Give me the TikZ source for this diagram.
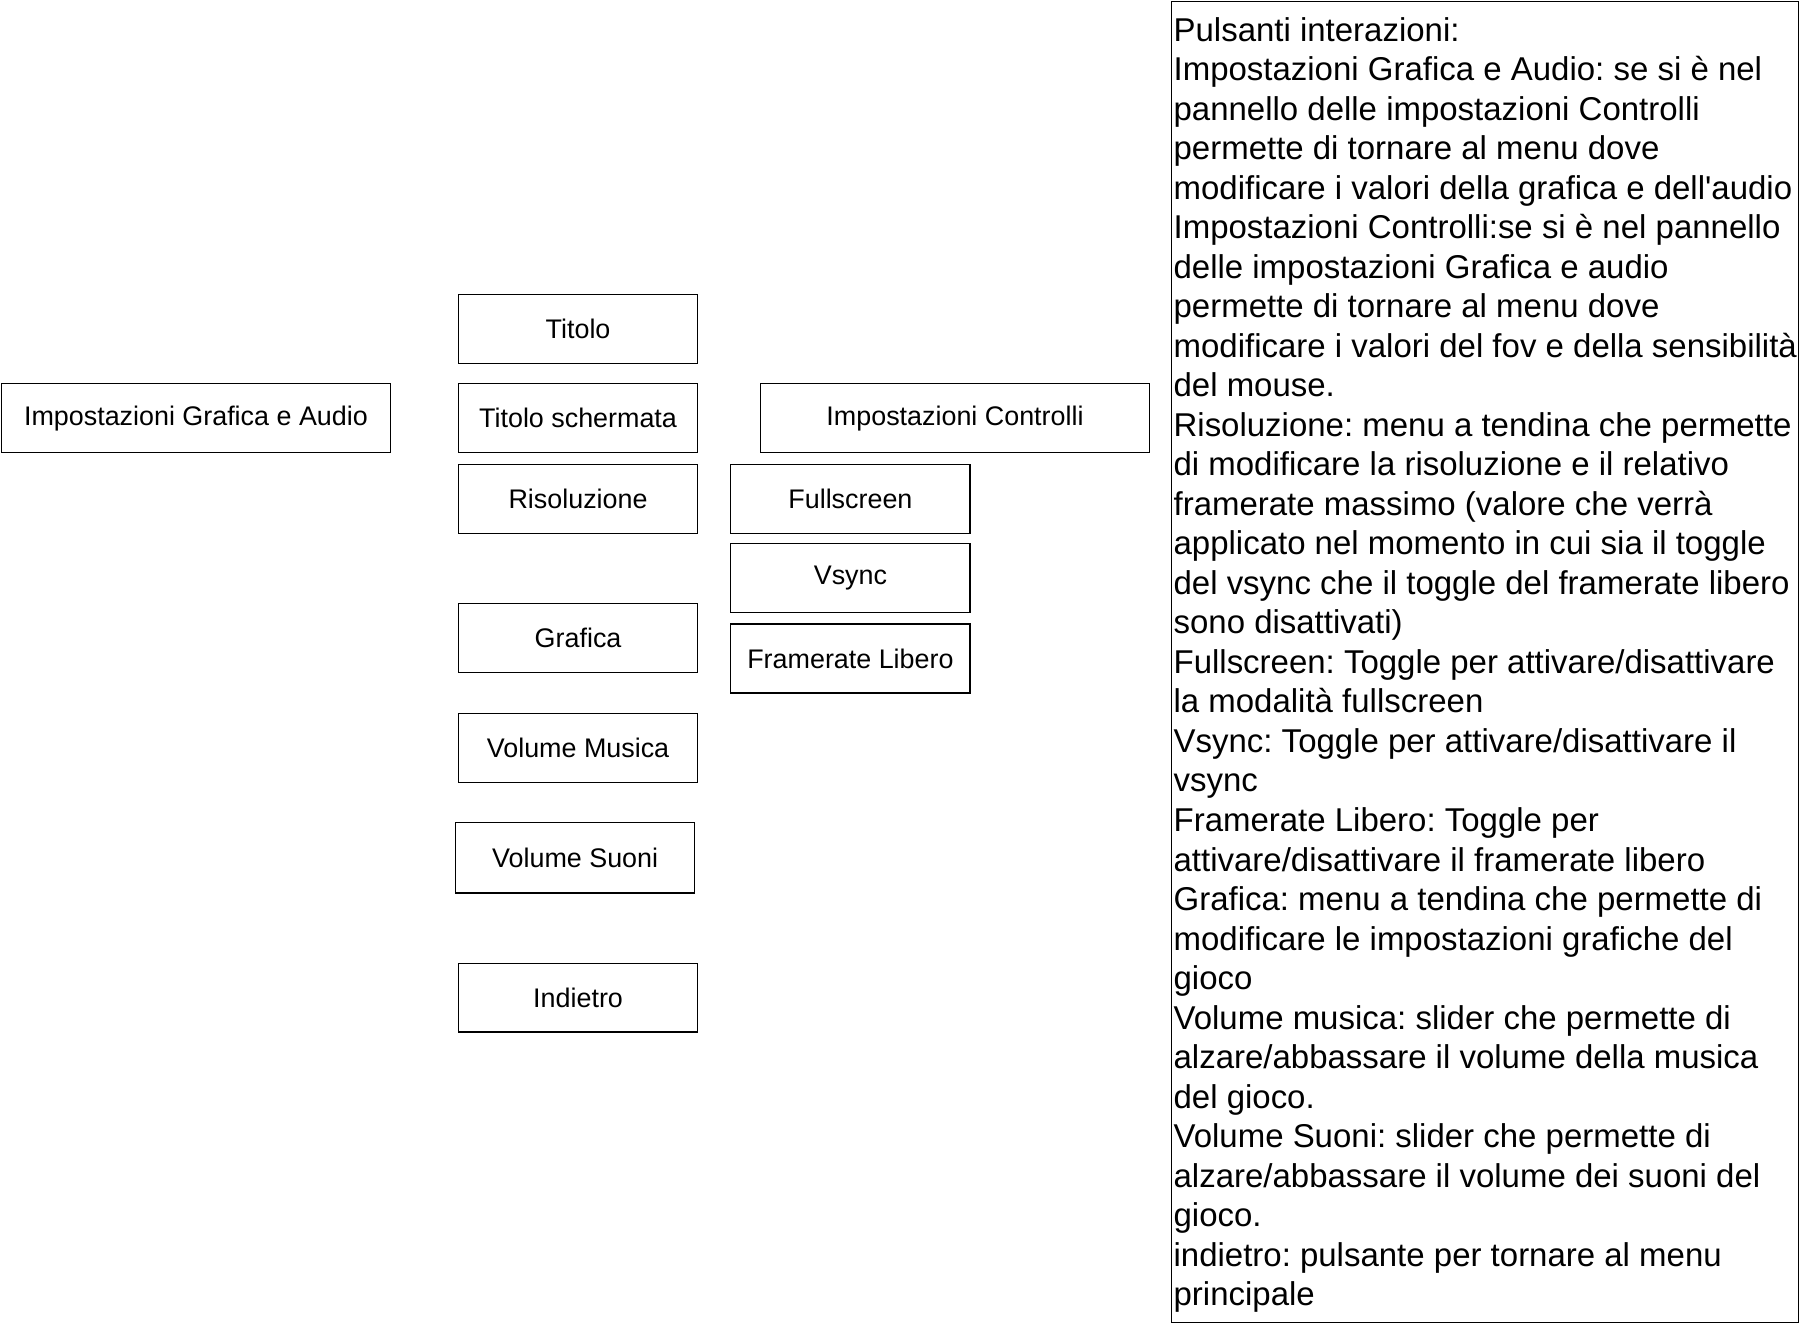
\documentclass[tikz,border=0pt]{standalone}
\usepackage{fontspec}
\setmainfont{Liberation Sans}[Ligatures=TeXOff]
\frenchspacing
\begin{document}
\frenchspacing
\begin{tikzpicture}[x=1pt,y=-1pt,
  btn/.style={draw=black, line width=1pt, minimum width=208pt, minimum height=60pt,
    inner sep=0pt, font={\fontsize{23.4}{28}\selectfont\frenchspacing}, text=black},
  wide/.style={btn, minimum width=338pt},
  notes/.style={anchor=north west, inner sep=0pt, align=left,
    font={\fontsize{28.7}{34.38}\selectfont\frenchspacing}, text=black}]
\useasboundingbox (0,0) rectangle (1568,1152);
\fill[white] (0,0) rectangle (1568,1152);
% left menu
\node[wide, minimum width=339pt] (iga) at (170.5,364) {Impostazioni Grafica e Audio};
\node[btn] (titolo) at (503,286) {Titolo};
\node[btn] (tsch) at (503,364) {Titolo schermata};
\node[btn] (ris) at (503,434) {Risoluzione};
\node[btn] (graf) at (503,555) {Grafica};
\node[btn] (vmus) at (503,651) {Volume Musica};
\node[btn, minimum height=61pt] (vsuo) at (500.5,746.5) {Volume Suoni};
\node[btn] (ind) at (503,868) {Indietro};
% right column
\node[wide] (ictrl) at (831,364) {Impostazioni Controlli};
\node[btn] (full) at (740,434) {Fullscreen};
\node[btn] (vsync) at (740,503) {Vsync};
\node[btn] (frl) at (740,573) {Framerate Libero};
% notes box
\draw[line width=1pt] (1019,1) rectangle (1565,1151);
\node[notes] (txt) at (1021,14.9) {Pulsanti interazioni:\\
Impostazioni Grafica e Audio: se si è nel\\
pannello delle impostazioni Controlli\\
permette di tornare al menu dove\\
modificare i valori della grafica e dell'audio\\
Impostazioni Controlli:se si è nel pannello\\
delle impostazioni Grafica e audio\\
permette di tornare al menu dove\\
modificare i valori del fov e della sensibilità\\
del mouse.\\
Risoluzione: menu a tendina che permette\\
di modificare la risoluzione e il relativo\\
framerate massimo (valore che verrà\\
applicato nel momento in cui sia il toggle\\
del vsync che il toggle del framerate libero\\
sono disattivati)\\
Fullscreen: Toggle per attivare/disattivare\\
la modalità fullscreen\\
Vsync: Toggle per attivare/disattivare il\\
vsync\\
Framerate Libero: Toggle per\\
attivare/disattivare il framerate libero\\
Grafica: menu a tendina che permette di\\
modificare le impostazioni grafiche del\\
gioco\\
Volume musica: slider che permette di\\
alzare/abbassare il volume della musica\\
del gioco.\\
Volume Suoni: slider che permette di\\
alzare/abbassare il volume dei suoni del\\
gioco.\\
indietro: pulsante per tornare al menu\\
principale};
\end{tikzpicture}
\end{document}
